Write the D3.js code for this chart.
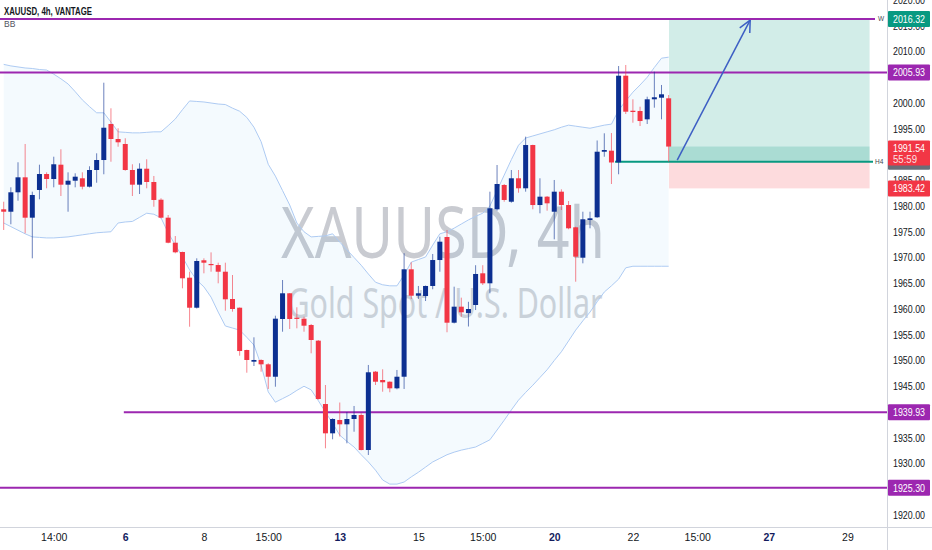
<!DOCTYPE html>
<html><head><meta charset="utf-8">
<script src="https://cdn.jsdelivr.net/npm/d3@7"></script>
<style>body{margin:0;background:#fff;overflow:hidden}svg{display:block}</style>
</head><body>
<svg id="c" width="932" height="550"></svg>
<script>
// ---------- DATA ----------
const openP = [1979.36,1978.89,1982.66,1985.57,1977.73,1983.11,1986.21,1985.24,1988.02,1984.14,
1984.91,1985.38,1983.75,1986.99,1988.93,1995.92,1993.01,1992.04,1986.99,1984.14,
1987.24,1984.66,1981.22,1977.73,1972.87,1971.07,1966.08,1960.25,1969.46,1968.74,
1968.54,1967.24,1961.94,1960.25,1952.04,1949.77,1950.10,1949.26,1946.85,1958.06,
1963.05,1958.31,1958.12,1956.89,1953.85,1941.55,1935.86,1938.45,1937.61,1938.64,
1939.42,1932.62,1947.83,1946.21,1945.88,1944.60,1946.85,1967.71,1962.58,1962.52,
1964.47,1969.51,1973.98,1957.34,1960.45,1959.20,1960.78,1966.93,1964.99,1979.36,
1984.08,1980.83,1985.38,1983.44,1991.84,1980.19,1981.81,1978.89,1982.78,1980.19,
1975.86,1969.96,1977.28,1977.81,1990.54,1990.74,1988.49,2005.30,1998.50,1998.45,
1996.83,2000.72,2001.03,2000.91];
const closeP = [1978.89,1982.66,1985.57,1977.73,1982.14,1986.21,1985.24,1988.10,1984.14,1984.91,
1985.69,1983.75,1986.99,1988.93,1995.20,1993.01,1992.37,1986.99,1984.14,1987.24,
1984.66,1981.17,1977.73,1972.87,1971.01,1965.96,1960.25,1969.32,1968.99,1968.60,
1967.24,1961.88,1960.00,1951.84,1950.10,1950.10,1949.26,1946.85,1958.12,1963.05,
1958.06,1958.12,1956.76,1953.98,1942.52,1935.86,1938.64,1937.61,1938.64,1939.42,
1932.62,1947.71,1945.88,1945.77,1944.60,1946.85,1967.71,1962.58,1963.05,1964.47,
1969.51,1973.07,1957.34,1960.45,1959.36,1960.00,1966.80,1964.99,1979.55,1984.27,
1981.17,1985.38,1983.44,1991.84,1980.19,1981.81,1980.52,1982.78,1980.19,1975.67,
1970.16,1977.42,1977.61,1990.54,1990.87,1988.45,2005.30,1998.31,1998.25,1996.50,
2000.72,2001.11,2001.69,1991.54];
const highP = [1980.83,1983.63,1988.49,1992.04,1982.78,1988.02,1986.54,1989.57,1991.01,1986.54,
1986.35,1986.54,1987.71,1990.23,2003.94,1998.97,1995.09,1993.15,1988.10,1988.29,
1989.07,1985.83,1981.50,1978.25,1974.17,1971.13,1967.24,1969.84,1969.84,1971.00,
1968.99,1968.99,1966.60,1960.30,1952.10,1954.50,1950.23,1949.46,1958.70,1965.63,
1963.10,1960.33,1958.50,1957.09,1953.98,1945.24,1938.78,1941.84,1940.00,1941.17,
1939.75,1949.13,1947.96,1948.29,1945.95,1948.16,1970.83,1969.07,1964.47,1964.55,
1970.68,1974.04,1975.34,1964.33,1962.20,1961.40,1968.50,1968.50,1982.78,1987.96,
1984.27,1986.99,1986.99,1993.46,1991.90,1985.38,1981.94,1985.05,1983.24,1980.97,
1975.98,1978.89,1978.89,1992.72,1994.12,1994.17,2007.18,2007.38,2000.72,1999.28,
2001.22,2006.08,2003.50,2001.55];
const lowP = [1975.34,1976.45,1981.03,1974.70,1969.84,1981.30,1983.44,1983.63,1981.94,1978.89,
1983.63,1983.24,1983.60,1984.52,1986.16,1988.60,1991.51,1986.85,1981.94,1982.33,
1983.44,1979.86,1977.61,1972.76,1970.82,1964.02,1956.56,1960.10,1966.93,1967.24,
1964.99,1959.67,1959.48,1950.93,1947.63,1948.93,1947.83,1944.47,1944.91,1955.59,
1956.12,1956.25,1955.59,1951.40,1942.40,1932.95,1934.70,1935.24,1933.92,1936.17,
1932.55,1931.65,1945.24,1943.94,1943.83,1944.41,1944.47,1961.94,1961.94,1961.55,
1963.83,1967.24,1955.48,1957.20,1958.50,1956.60,1959.80,1964.66,1963.05,1979.09,
1980.83,1980.64,1982.58,1982.78,1979.36,1978.58,1979.09,1973.53,1979.22,1975.48,
1965.30,1968.87,1975.67,1977.70,1989.57,1984.27,1986.16,1997.86,1996.17,1995.53,
1995.92,1999.09,1996.83,1988.60];
const bbUpper = [2007.5,2007.2,2007.0,2006.8,2006.7,2006.5,2006.4,2005.6,2004.7,2003.7,
2002.2,2000.6,1999.3,1998.1,1998.1,1996.3,1994.4,1994.3,1994.2,1994.2,
1994.3,1994.4,1994.4,1995.6,1996.9,1998.7,2000.4,2000.3,2000.2,2000.0,
1999.8,1999.7,1999.0,1998.4,1997.2,1995.3,1992.5,1988.1,1985.8,1983.0,
1980.2,1976.7,1975.0,1974.0,1974.1,1974.2,1974.6,1973.0,1971.5,1970.0,
1968.5,1966.8,1965.2,1964.7,1964.5,1964.5,1966.6,1969.1,1969.6,1970.1,
1972.4,1974.6,1975.0,1975.7,1976.5,1977.3,1978.0,1978.6,1980.0,1983.0,
1986.0,1989.0,1991.8,1993.2,1993.6,1994.0,1994.4,1994.8,1995.3,1995.7,
1995.5,1995.3,1995.1,1995.4,1995.7,1995.9,1998.6,2000.4,2002.1,2003.5,
2005.0,2006.9,2008.7,2008.9];
const bbLower = [1976.7,1976.0,1975.3,1974.6,1974.0,1973.9,1973.8,1973.8,1973.9,1974.0,
1974.2,1974.4,1974.6,1974.8,1974.9,1975.0,1976.7,1976.9,1977.0,1977.8,
1978.6,1978.4,1977.7,1974.8,1972.4,1970.1,1967.6,1965.6,1964.3,1962.3,
1959.4,1956.7,1956.3,1955.9,1954.5,1953.0,1949.1,1943.9,1941.9,1942.6,
1943.3,1944.2,1945.0,1944.3,1942.2,1940.0,1937.8,1935.5,1934.3,1933.2,
1931.7,1930.3,1928.7,1926.8,1926.0,1926.0,1926.4,1927.4,1928.3,1929.3,
1930.3,1931.0,1931.7,1932.2,1932.6,1932.9,1933.2,1933.9,1934.6,1936.5,
1938.4,1940.4,1942.3,1943.8,1945.2,1946.7,1948.2,1950.0,1951.7,1953.8,
1955.9,1957.7,1959.4,1961.4,1963.3,1964.5,1965.8,1968.0,1968.3,1968.3,
1968.3,1968.3,1968.3,1968.3];
const priceTicks = [2020,2015,2010,2000,1995,1985,1980,1975,1970,1965,1960,1955,1950,1945,1935,1930,1920];
const timeTickIdx = [7,17,28,37,47,58,67,77,88,97,107,118];
const timeTickLabels = ["14:00","6","8","15:00","13","15","15:00","20","22","15:00","27","29"];
const timeTickBold = [false,true,false,false,true,false,false,true,false,false,true,false];
const levelPrices = [2016.32, 2005.93, 1939.93, 1925.30];
const levelStartIdx = [-1, -1, 16.8, -1];
const entryPrice = 1988.6, targetPrice = 2016.32, stopPrice = 1983.42, lastPrice = 1991.54;
const countdown = "55:59";
const posStartIdx = 93.05, posEndIdx = 121.1, entryLineStartIdx = 85.5;
const arrowFrom = [94.2, 1988.9], arrowTo = [104.4, 2016.1];

// ---------- LAYOUT ----------
const W = 932, H = 550, plotR = 887, plotB = 527;
const svg = d3.select("#c");
const x = d3.scaleLinear().domain([0, 118]).range([3.7, 3.7 + 118 * 7.15]);
const y = d3.scaleLinear().domain([1920, 2000]).range([515, 103]);
const N = openP.length;
const idx = d3.range(N);
const FONT = "'Liberation Sans',Arial,sans-serif";
const BLUE = "#0c2f91", RED = "#f23645", PURPLE = "#9c27b0", GREEN = "#089981";
const fmt = d3.format(".2f");
const LBLW = 32;

const plot = svg.append("g");
plot.append("defs").append("clipPath").attr("id","pc").append("rect")
  .attr("x",0).attr("y",0).attr("width",plotR).attr("height",plotB);
const g = plot.append("g").attr("clip-path","url(#pc)");

// watermark
g.append("text").attr("x",443).attr("y",258).attr("text-anchor","middle")
  .attr("font-family","'Noto Sans',sans-serif").attr("font-size",72)
  .attr("textLength",324).attr("lengthAdjust","spacingAndGlyphs")
  .attr("fill","#c9cbd1").text("XAUUSD, 4h");
g.append("text").attr("x",445).attr("y",318).attr("text-anchor","middle")
  .attr("font-family","'Noto Sans',sans-serif").attr("font-size",42)
  .attr("textLength",315).attr("lengthAdjust","spacingAndGlyphs")
  .attr("fill","#d2d4d9").text("Gold Spot / U.S. Dollar");

// Bollinger bands
const area = d3.area().x(i => x(i)).y0(i => y(bbLower[i])).y1(i => y(bbUpper[i]));
g.append("path").datum(idx).attr("d", area).attr("fill","rgba(33,150,243,0.05)");
const lineU = d3.line().x(i => x(i)).y(i => y(bbUpper[i]));
const lineL = d3.line().x(i => x(i)).y(i => y(bbLower[i]));
[lineU, lineL].forEach(l => g.append("path").datum(idx).attr("d", l)
  .attr("fill","none").attr("stroke","#aecbf3").attr("stroke-width",1));

// position tool
const px0 = x(posStartIdx), px1 = x(posEndIdx);
g.append("rect").attr("x",px0).attr("width",px1-px0)
  .attr("y",y(targetPrice)).attr("height",y(entryPrice)-y(targetPrice)).attr("fill","rgba(8,153,129,0.18)");
g.append("rect").attr("x",px0).attr("width",px1-px0)
  .attr("y",y(lastPrice)).attr("height",y(entryPrice)-y(lastPrice)).attr("fill","rgba(8,153,129,0.2)");
g.append("rect").attr("x",px0).attr("width",px1-px0)
  .attr("y",y(entryPrice)).attr("height",y(stopPrice)-y(entryPrice)).attr("fill","rgba(242,54,69,0.18)");

// horizontal levels
levelPrices.forEach((p,k) => {
  const xs = levelStartIdx[k] < 0 ? 0 : x(levelStartIdx[k]);
  const xe = k === 0 ? 875 : plotR;
  g.append("line").attr("x1",xs).attr("x2",xe).attr("y1",y(p)).attr("y2",y(p))
    .attr("stroke",PURPLE).attr("stroke-width",2);
});
// entry line
g.append("line").attr("x1",x(entryLineStartIdx)).attr("x2",873).attr("y1",y(entryPrice)).attr("y2",y(entryPrice))
  .attr("stroke",GREEN).attr("stroke-width",2);
g.append("text").attr("x",875).attr("y",y(entryPrice)+2.5).attr("font-family",FONT).attr("font-size",6.5).attr("fill","#434651").text("H4");
g.append("text").attr("x",878).attr("y",y(targetPrice)+2.5).attr("font-family",FONT).attr("font-size",6.5).attr("fill","#434651").text("W");

// candles
const bw = 5;
const cg = g.append("g");
idx.forEach(i => {
  const up = closeP[i] >= openP[i];
  const col = up ? BLUE : RED;
  const cx = x(i);
  cg.append("line").attr("x1",cx).attr("x2",cx).attr("y1",y(highP[i])).attr("y2",y(lowP[i]))
    .attr("stroke",col).attr("stroke-opacity",0.6).attr("stroke-width",1);
  const yt = y(Math.max(openP[i],closeP[i])), yb = y(Math.min(openP[i],closeP[i]));
  cg.append("rect").attr("x",cx-bw/2).attr("width",bw).attr("y",yt).attr("height",Math.max(1.2,yb-yt)).attr("fill",col);
});

// arrow
const ax0 = x(arrowFrom[0]), ay0 = y(arrowFrom[1]), ax1 = x(arrowTo[0]), ay1 = y(arrowTo[1]);
g.append("line").attr("x1",ax0).attr("y1",ay0).attr("x2",ax1).attr("y2",ay1).attr("stroke","#3d5fc4").attr("stroke-width",1.5);
const ang = Math.atan2(ay0-ay1, ax0-ax1);
[0.45,-0.45].forEach(d => {
  g.append("line").attr("x1",ax1).attr("y1",ay1)
    .attr("x2",ax1+13*Math.cos(ang+d)).attr("y2",ay1+13*Math.sin(ang+d))
    .attr("stroke","#3d5fc4").attr("stroke-width",1.5);
});

// header
svg.append("text").attr("x",4).attr("y",15).attr("font-family",FONT).attr("font-weight","bold")
  .attr("font-size",10).attr("textLength",88).attr("lengthAdjust","spacingAndGlyphs")
  .attr("fill","#131722").text("XAUUSD, 4h, VANTAGE");
svg.append("text").attr("x",4).attr("y",27).attr("font-family",FONT)
  .attr("font-size",8.5).attr("fill","#50535e").text("BB");

// axes borders
svg.append("line").attr("x1",plotR+0.5).attr("x2",plotR+0.5).attr("y1",0).attr("y2",H).attr("stroke","#d1d4dc");
svg.append("line").attr("x1",0).attr("x2",W).attr("y1",plotB+0.5).attr("y2",plotB+0.5).attr("stroke","#d1d4dc");

// price axis ticks
const yAxis = d3.axisRight(y).tickValues(priceTicks).tickSize(0).tickPadding(0).tickFormat(fmt);
const ya = svg.append("g").attr("transform",`translate(${plotR+6},0)`).call(yAxis);
ya.select(".domain").remove();
ya.selectAll("text").attr("font-family",FONT).attr("font-size",10.5).attr("fill","#131722")
  .attr("textLength",LBLW).attr("lengthAdjust","spacingAndGlyphs");

// time axis
const xAxis = d3.axisBottom(x).tickValues(timeTickIdx).tickSize(0).tickPadding(0)
  .tickFormat((d,k) => timeTickLabels[k]);
const xa = svg.append("g").attr("transform",`translate(0,${plotB+7})`).call(xAxis);
xa.select(".domain").remove();
xa.selectAll("text").attr("font-family",FONT).attr("font-size",10.5)
  .attr("fill",(d,k)=> timeTickBold[k] ? "#131c5e" : "#131722")
  .attr("font-weight",(d,k)=> timeTickBold[k] ? "bold" : "normal");

// price labels
function priceLabel(p, bg, showText) {
  const cy = y(p);
  const gg = svg.append("g");
  gg.append("rect").attr("x",plotR+1).attr("width",W-plotR-3).attr("y",cy-8).attr("height",16).attr("fill",bg).attr("rx",1);
  if (showText !== false)
    gg.append("text").attr("x",plotR+6).attr("y",cy+4).attr("font-family",FONT).attr("font-size",10.5)
      .attr("textLength",LBLW).attr("lengthAdjust","spacingAndGlyphs").attr("fill","#fff").text(fmt(p));
}
priceLabel(entryPrice, "#6a6d78", false);
priceLabel(targetPrice, GREEN);
priceLabel(levelPrices[1], PURPLE);
priceLabel(levelPrices[2], PURPLE);
priceLabel(levelPrices[3], PURPLE);
priceLabel(stopPrice, RED);
// last price with countdown
(function(){
  const cy = y(lastPrice);
  svg.append("rect").attr("x",plotR+1).attr("width",W-plotR-3).attr("y",cy-6).attr("height",25).attr("fill",RED).attr("rx",1);
  svg.append("text").attr("x",plotR+6).attr("y",cy+5).attr("font-family",FONT).attr("font-size",10.5)
    .attr("textLength",LBLW).attr("lengthAdjust","spacingAndGlyphs").attr("fill","#fff").text(fmt(lastPrice));
  svg.append("text").attr("x",plotR+6).attr("y",cy+16).attr("font-family",FONT).attr("font-size",10.5)
    .attr("textLength",24).attr("lengthAdjust","spacingAndGlyphs").attr("fill","#fde0e3").text(countdown);
})();
</script>
</body></html>
